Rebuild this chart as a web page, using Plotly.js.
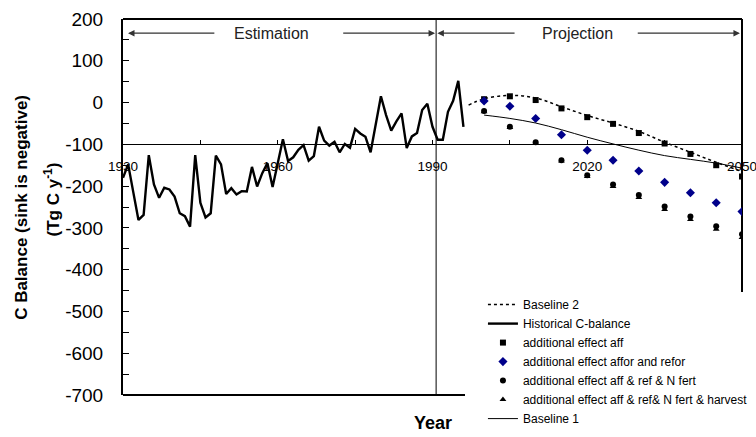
<!DOCTYPE html>
<html>
<head>
<meta charset="utf-8">
<script src="https://cdn.plot.ly/plotly-3.0.1.min.js"></script>
<style>html,body{margin:0;padding:0;background:#fff;}#chart{width:756px;height:437px;}</style>
</head>
<body>
<div id="chart"></div>
<script>
// Historical C-balance (Tg C / yr)
const histYears = [1930,1931,1932,1933,1934,1935,1936,1937,1938,1939,
  1940,1941,1942,1943,1944,1945,1946,1947,1948,1949,
  1950,1951,1952,1953,1954,1955,1956,1957,1958,1959,
  1960,1961,1962,1963,1964,1965,1966,1967,1968,1969,
  1970,1971,1972,1973,1974,1975,1976,1977,1978,1979,
  1980,1981,1982,1983,1984,1985,1986,1987,1988,1989,
  1990,1991,1992,1993,1994,1995,1996];
const histValues = [-180,-148,-215,-281,-269,-126,-196,-228,-204,-208,
  -225,-265,-272,-297,-126,-240,-275,-265,-127,-148,
  -219,-205,-220,-212,-213,-154,-201,-169,-145,-202,
  -145,-88,-140,-131,-113,-102,-139,-128,-58,-91,
  -103,-94,-119,-99,-108,-63,-74,-82,-119,-55,
  15,-30,-67,-45,-26,-109,-81,-73,-18,-3,
  -58,-89,-89,-22,4,52,-58];

// Baseline 2 (dotted)
const base2Years = [1997,2000,2005,2010,2015,2020,2025,2030,2035,2040,2045,2050];
const base2Values = [-6,9,17,11,-10,-31,-49,-69,-95,-119,-143,-165];

// Projection years
const projYears = [2000,2005,2010,2015,2020,2025,2030,2035,2040,2045,2050];
const base1Values = [-30,-38,-49,-65,-83,-99,-114,-127,-136,-145,-157];
const affValues = [8,15,6,-14,-35,-51,-73,-98,-123,-150,-177];
const afforReforValues = [4,-9,-38,-77,-114,-138,-164,-191,-216,-240,-261];
const nFertValues = [-20,-58,-95,-138,-174,-196,-221,-249,-273,-296,-315];
const harvestValues = [-22,-60,-97,-140,-177,-201,-227,-256,-280,-303,-323];

// Tick labels
const yTickVals = [-700,-600,-500,-400,-300,-200,-100,0,100,200];
const yTickText = ['-700','-600','-500','-400','-300','-200','-100','0','100','200'];
const xTickVals = [1930,1960,1990,2020,2050];
const xTickText = ['1930','1960','1990','2020','2050'];

const periodLabels = ['Estimation','Projection'];

const FONT = 'Liberation Sans, Arial, sans-serif';

const traces = [
  {x: base2Years, y: base2Values, name: 'Baseline 2', mode: 'lines',
   line: {color: '#000', width: 1.5, dash: 'dot', shape: 'spline'}, legendrank: 1},
  {x: histYears, y: histValues, name: 'Historical C-balance', mode: 'lines',
   line: {color: '#000', width: 2.4}, legendrank: 2},
  {x: projYears, y: affValues, name: 'additional effect aff', mode: 'markers',
   marker: {symbol: 'square', size: 6, color: '#000'}, legendrank: 3},
  {x: projYears, y: afforReforValues, name: 'additional effect affor and refor', mode: 'markers',
   marker: {symbol: 'diamond', size: 7, color: '#00008B'}, legendrank: 4},
  {x: projYears, y: harvestValues, name: 'additional effect aff & ref& N fert & harvest', mode: 'markers',
   marker: {symbol: 'triangle-up', size: 6, color: '#000'}, legendrank: 6},
  {x: projYears, y: nFertValues, name: 'additional effect aff & ref & N fert', mode: 'markers',
   marker: {symbol: 'circle', size: 6, color: '#000'}, legendrank: 5},
  {x: projYears, y: base1Values, name: 'Baseline 1', mode: 'lines',
   line: {color: '#000', width: 1, shape: 'spline'}, legendrank: 7}
];

const arrowY = 166;
function arrow(head, tail) {
  return {x: head, y: arrowY, ax: tail, ay: arrowY, xref: 'x', yref: 'y', axref: 'x', ayref: 'y',
    text: '', showarrow: true, arrowhead: 2, arrowsize: 1, arrowwidth: 1.3, arrowcolor: '#333'};
}

const layout = {
  width: 756, height: 437,
  margin: {l: 123, r: 14, t: 19, b: 42, autoexpand: false},
  paper_bgcolor: '#fff', plot_bgcolor: '#fff',
  font: {family: FONT, color: '#000'},
  showlegend: true,
  legend: {x: 0.5815, y: 0.279, xanchor: 'left', yanchor: 'top', bgcolor: 'rgba(0,0,0,0)',
    borderwidth: 0, font: {size: 12, family: FONT, color: '#000'}, traceorder: 'normal'},
  xaxis: {range: [1930, 2050], anchor: 'free', position: 0.6667, showgrid: false, zeroline: false,
    showline: true, linecolor: '#000', linewidth: 1, ticks: 'inside', ticklen: 4, tickcolor: '#000',
    tickmode: 'array', tickvals: xTickVals, ticktext: xTickText, ticklabeloverflow: 'allow',
    ticklabelshift: -1.5,
    tickfont: {size: 13.5, family: FONT, color: '#000'}, ticklabelstandoff: 9,
    minor: {tick0: 1930, dtick: 15, ticks: 'inside', ticklen: 4, tickcolor: '#000', showgrid: false}},
  yaxis: {range: [-700, 200], showgrid: false, zeroline: false, showline: true, linecolor: '#000',
    linewidth: 2, ticks: 'inside', ticklen: 6, tickcolor: '#000',
    tickmode: 'array', tickvals: yTickVals, ticktext: yTickText, ticklabeloverflow: 'allow',
    tickfont: {size: 19, family: FONT, color: '#000'}, ticklabelstandoff: 14,
    minor: {tick0: 0, dtick: 50, ticks: 'inside', ticklen: 6, tickcolor: '#000', showgrid: false}},
  shapes: [
    {type: 'line', xref: 'paper', yref: 'paper', x0: 0, x1: 1, y0: 1, y1: 1, line: {color: '#000', width: 2}, layer: 'below'},
    {type: 'line', xref: 'paper', yref: 'paper', x0: 1, x1: 1, y0: 1, y1: 0.274, line: {color: '#000', width: 2}, layer: 'below'},
    {type: 'line', xref: 'paper', yref: 'paper', x0: 0, x1: 0.5525, y0: 0, y1: 0, line: {color: '#000', width: 2}, layer: 'below'},
    {type: 'line', xref: 'x', yref: 'paper', x0: 1990.7, x1: 1990.7, y0: 0, y1: 1, line: {color: '#000', width: 1}, layer: 'below'}
  ],
  annotations: [
    {x: 1958.8, y: arrowY, xref: 'x', yref: 'y', text: periodLabels[0], showarrow: false,
      font: {size: 16, family: FONT, color: '#222'}},
    {x: 2018.1, y: arrowY, xref: 'x', yref: 'y', text: periodLabels[1], showarrow: false,
      font: {size: 16, family: FONT, color: '#222'}},
    arrow(1930.97, 1948.0), arrow(1990.5, 1972.4),
    arrow(1990.95, 2006.2), arrow(2049.6, 2029.5),
    {xref: 'paper', yref: 'paper', x: 0.5, y: -0.0745, yanchor: 'middle', text: '<b>Year</b>', showarrow: false,
      font: {size: 18, family: FONT, color: '#000'}},
    {xref: 'paper', yref: 'paper', x: -0.165, y: 0.5, xanchor: 'center', yanchor: 'middle', text: '<b>C Balance (sink is negative)</b>',
      textangle: -90, showarrow: false, font: {size: 17, family: FONT, color: '#000'}},
    {xref: 'paper', yref: 'paper', x: -0.1147, y: 0.52, xanchor: 'center', yanchor: 'middle', text: '<b>(Tg C y<sup>-1</sup>)</b>',
      textangle: -90, showarrow: false, font: {size: 17, family: FONT, color: '#000'}}
  ]
};

Plotly.newPlot('chart', traces, layout, {displayModeBar: false, staticPlot: true});
</script>
</body>
</html>
